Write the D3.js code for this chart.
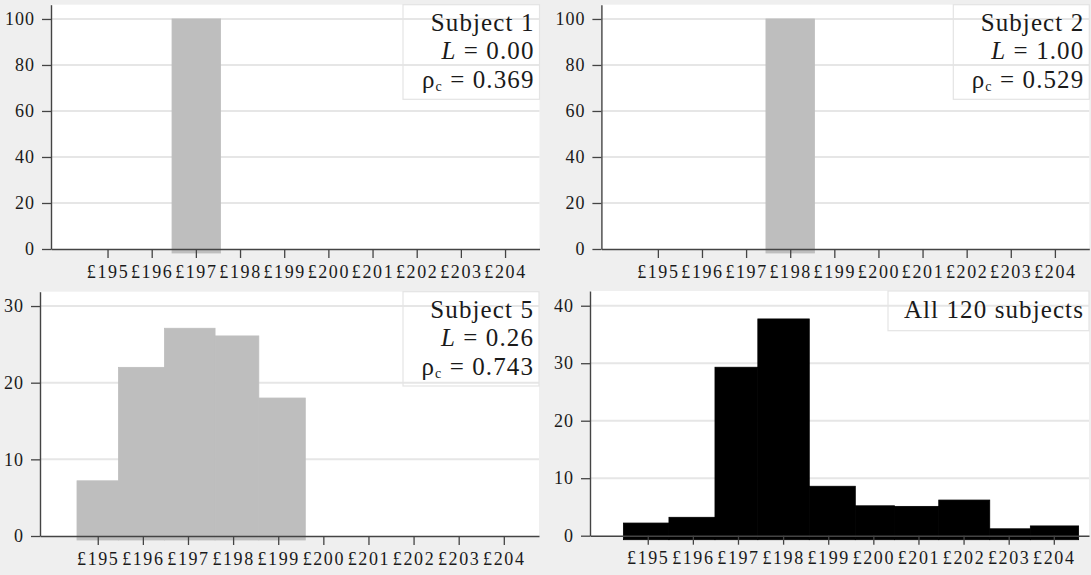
<!DOCTYPE html>
<html>
<head>
<meta charset="utf-8">
<script src="https://cdn.jsdelivr.net/npm/d3@7"></script>
<style>
body { margin: 0; background: #efefef; }
svg { display: block; }
</style>
</head>
<body>
<svg width="1091" height="575"></svg>
<script>
const xTicks = [195, 196, 197, 198, 199, 200, 201, 202, 203, 204];
const xTickLabels = ["£195", "£196", "£197", "£198", "£199", "£200", "£201", "£202", "£203", "£204"];
const xDomain = [193.72, 204.78];

const titles = ["Subject 1", "Subject 2", "Subject 5", "All 120 subjects"];
const lValues = ["0.00", "1.00", "0.26", null];
const rhoValues = ["0.369", "0.529", "0.743", null];

// bin edges and percent per bin
const edges1 = [196.46, 197.56];
const pct1 = [100];
const edges2 = [197.45, 198.55];
const pct2 = [100];
const edges5 = [194.54, 195.46, 196.48, 197.6, 198.57, 199.6];
const pct5 = [7.2, 22.0, 27.1, 26.1, 18.0];
const edgesAll = [194.46, 195.47, 196.49, 197.44, 198.58, 199.6, 200.47, 201.45, 202.58, 203.48, 204.55];
const pctAll = [2.2, 3.2, 29.3, 37.7, 8.6, 5.2, 5.1, 6.2, 1.2, 1.7];

const yTicksTop = [0, 20, 40, 60, 80, 100];
const yTicks5 = [0, 10, 20, 30];
const yTicksAll = [0, 10, 20, 30, 40];

const panels = [
    { left: 51, right: 539.5, top: 4.7, bottom: 249, yTop: 106.2, yTicks: yTicksTop,
      edges: edges1, pct: pct1, fill: "#bebebe", boxLeft: 403, boxH: 94.6 },
    { left: 601.4, right: 1089.3, top: 4.7, bottom: 249, yTop: 106.2, yTicks: yTicksTop,
      edges: edges2, pct: pct2, fill: "#bebebe", boxLeft: 953.3, boxH: 94.6 },
    { left: 40, right: 539, top: 291.7, bottom: 536, yTop: 31.87, yTicks: yTicks5,
      edges: edges5, pct: pct5, fill: "#bebebe", boxLeft: 403, boxH: 94.3 },
    { left: 590, right: 1089, top: 291, bottom: 535.7, yTop: 42.56, yTicks: yTicksAll,
      edges: edgesAll, pct: pctAll, fill: "#000000", boxLeft: 888, boxH: 39.7 }
];

const FONT = 'Liberation Serif';
const svg = d3.select('svg');

panels.forEach((p, k) => {
    const g = svg.append('g');
    const x = d3.scaleLinear().domain(xDomain).range([p.left, p.right]);
    const y = d3.scaleLinear().domain([0, p.yTop]).range([p.bottom, p.top]);

    g.append('rect')
        .attr('x', p.left).attr('y', p.top)
        .attr('width', p.right - p.left).attr('height', p.bottom - p.top)
        .attr('fill', '#fff');

    g.append('g')
        .selectAll('line')
        .data(p.yTicks.filter(t => t > 0))
        .enter()
        .append('line')
        .attr('x1', p.left).attr('x2', p.right)
        .attr('y1', d => y(d)).attr('y2', d => y(d))
        .attr('stroke', '#e6e6e6')
        .attr('stroke-width', 2);

    g.append('rect')
        .attr('x', p.boxLeft).attr('y', p.top)
        .attr('width', p.right - p.boxLeft).attr('height', p.boxH)
        .attr('fill', 'none')
        .attr('stroke', '#e4e4e4')
        .attr('stroke-width', 1.2);

    const bins = p.pct.map((v, i) => ({ x0: p.edges[i], x1: p.edges[i + 1], v: v }));

    g.append('g')
        .selectAll('rect')
        .data(bins)
        .enter()
        .append('rect')
        .attr('x', d => x(d.x0))
        .attr('width', d => x(d.x1) - x(d.x0))
        .attr('y', d => y(d.v))
        .attr('height', d => y(0) - y(d.v) + 4)
        .attr('fill', p.fill)
        .attr('stroke', p.fill)
        .attr('stroke-width', 0.8);

    const yAxis = g.append('g')
        .attr('transform', `translate(${p.left},0)`)
        .call(d3.axisLeft(y).tickValues(p.yTicks).tickSize(9).tickPadding(7).tickSizeOuter(0));

    const xAxis = g.append('g')
        .attr('transform', `translate(0,${p.bottom})`)
        .call(d3.axisBottom(x).tickValues(xTicks).tickFormat((d, i) => xTickLabels[i])
            .tickSize(9).tickPadding(7).tickSizeOuter(0));

    [yAxis, xAxis].forEach(a => {
        a.attr('font-family', FONT).attr('font-size', 18);
        a.select('.domain').attr('stroke', '#444').attr('stroke-width', 1.4);
        a.selectAll('.tick line').attr('stroke', '#444').attr('stroke-width', 1.3);
        a.selectAll('.tick text')
            .attr('fill', '#1a1a1a')
            .attr('font-family', FONT)
            .attr('letter-spacing', 1);
    });
    xAxis.selectAll('.tick text').attr('letter-spacing', 1.6);

    const tx = p.right - 5;
    const legend = g.append('g')
        .attr('font-size', 25)
        .attr('font-family', FONT)
        .attr('fill', '#1a1a1a')
        .attr('text-anchor', 'end')
        .attr('letter-spacing', 1.1);

    legend.append('text')
        .attr('x', tx).attr('y', p.top + 26.5)
        .text(titles[k]);

    if (lValues[k] !== null) {
        const t = legend.append('text').attr('x', tx).attr('y', p.top + 54.5);
        t.append('tspan').attr('font-style', 'italic').text('L');
        t.append('tspan').text(' = ' + lValues[k]);
    }
    if (rhoValues[k] !== null) {
        const t = legend.append('text').attr('x', tx).attr('y', p.top + 83.5);
        t.append('tspan').text('ρ');
        t.append('tspan').attr('font-size', 14).attr('dy', 3).text('c');
        t.append('tspan').attr('dy', -3).text(' = ' + rhoValues[k]);
    }
});
</script>
</body>
</html>
